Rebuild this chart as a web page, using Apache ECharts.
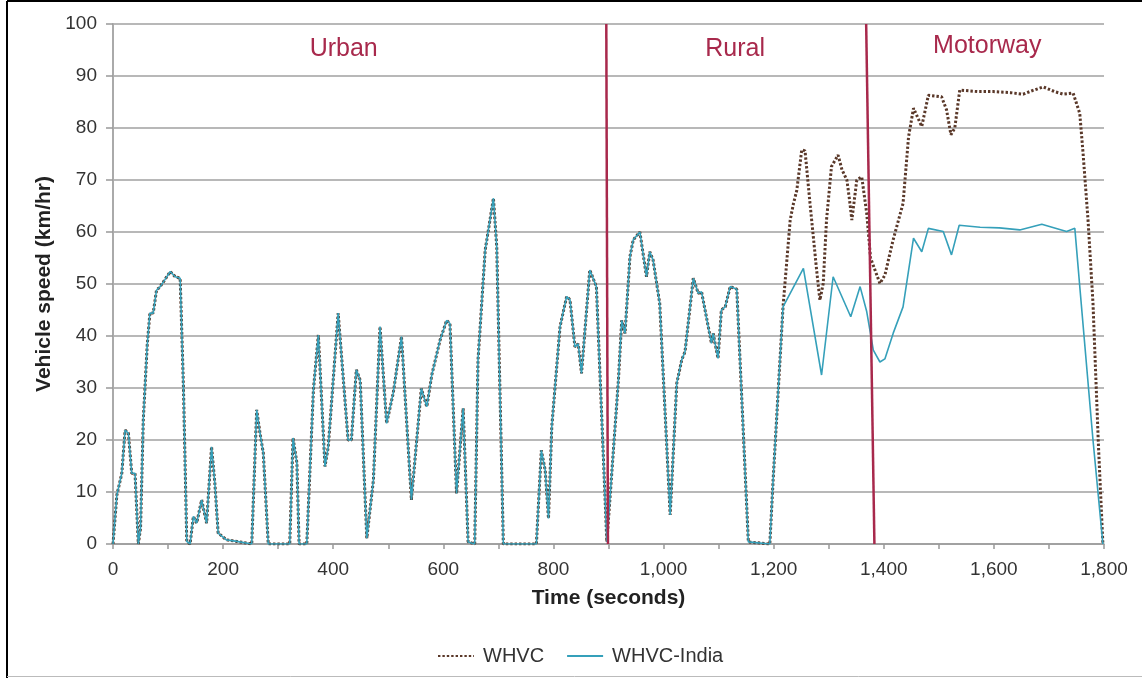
<!DOCTYPE html>
<html>
<head>
<meta charset="utf-8">
<script src="https://cdn.jsdelivr.net/npm/echarts@6/dist/echarts.min.js"></script>
<style>
html,body{margin:0;padding:0;background:#fff;}
#chart{width:1142px;height:678px;}
</style>
</head>
<body>
<div id="chart"></div>
<script>
// Shared part of both cycles (identical up to ~1217 s): [time s, speed km/h]
const sharedPart = [
  [0,0],[7,9.4],[16,13.6],[22,21.9],[28,21.3],[34,13.6],[40,13.6],[46,0],[50,3],[55,23.8],[62,38],[67,44.4],[73,44.4],
  [79,48.8],[85,49.4],[94,50.8],[104,52.4],[113,51.4],[122,51.1],[128,30],[134,0.5],[140,0],[146,5.3],[152,4],[161,8.5],
  [170,4],[179,18.7],[185,11.7],[191,2.1],[206,0.8],[225,0.5],[252,0],[261,25.8],[267,21.3],[273,17.5],[282,0],[321,0],
  [327,20.4],[334,15.6],[338,0],[352,0],[358,14.9],[364,29.6],[373,40.2],[385,14.9],[391,18.7],[409,44.4],[427,20],
  [433,20],[442,33.5],[449,31.5],[461,1.1],[464,0.8],[473,12.3],[485,41.8],[497,23.2],[509,29],[524,39.9],[542,8.5],
  [560,29.9],[570,26.4],[579,32.5],[594,39.2],[606,43],[612,42.4],[624,9.7],[636,26.1],[645,0.4],[657,0],[663,35.4],
  [676,56.5],[691,66.5],[697,57.2],[709,0],[769,0],[778,18],[785,14.2],[791,4.9],[797,22.6],[812,41.8],[824,47.6],
  [830,47],[839,37.9],[845,38.5],[851,32.8],[866,52.7],[878,49.5],[897,0.4],[918,31.5],[924,43],[930,40.5],[939,55.3],
  [945,58.5],[957,60],[969,51.4],[975,56.2],[981,54.6],[993,46.3],[1012,5.6],[1024,30.9],[1033,35.4],[1039,37],
  [1054,51.1],[1063,48.2],[1069,48.5],[1087,38.6],[1090,40.5],[1099,35.7],[1105,45],[1112,45.6],[1121,49.5],[1133,49],
  [1154,0.4],[1193,0],[1199,12.3],[1217,45.6]
];
// WHVC after the split
const whvcTail = [
  [1230,62.3],[1236,65.5],[1242,68],[1251,75.8],[1257,75.6],[1266,65.5],[1278,52.7],[1284,46.9],[1290,50.1],[1296,62.3],
  [1305,72.6],[1317,74.8],[1324,72],[1333,70],[1338,66],[1342,62.3],[1351,70],[1360,70.6],[1369,63.6],[1376,55],
  [1384,52.7],[1393,50.1],[1402,51.7],[1417,58.5],[1435,65.5],[1445,78.3],[1454,83.8],[1469,80.3],[1481,86.3],[1505,86],
  [1514,83.5],[1522,78.7],[1529,80],[1538,87.3],[1570,87],[1599,87],[1630,86.8],[1653,86.5],[1670,87.2],[1690,87.9],
  [1710,87],[1726,86.5],[1744,86.7],[1756,82.8],[1762,75.1],[1771,62.3],[1780,46.3],[1790,18.7],[1798,0]
];
// WHVC-India after the split
const indiaTail = [
  [1254,53],[1287,32.5],[1308,51.4],[1340,43.7],[1357,49.5],[1369,44.7],[1381,37.3],[1393,35],[1402,35.6],[1405,35.4],
  [1417,40.5],[1435,45.6],[1454,58.8],[1469,56.2],[1481,60.7],[1508,60.1],[1523,55.6],[1537,61.3],[1575,60.9],[1610,60.8],
  [1647,60.4],[1687,61.5],[1732,60.1],[1747,60.7],[1756,49.5],[1780,20],[1798,0]
];
const seriesNames = ['WHVC', 'WHVC-India'];
const phaseNames = ['Urban', 'Rural', 'Motorway'];
const phaseLabelPos = [[419, 95.2], [1130, 95.2], [1588, 95.8]];
// phase boundary lines: [time at 0 km/h, time at 100 km/h]
const phaseBounds = [[899, 896], [1383, 1368]];
const yTicks = {min: 0, max: 100, interval: 10};
const xTicks = {min: 0, max: 1800, interval: 100, labelEvery: 200};

const whvcData = sharedPart.concat(whvcTail);
const indiaData = sharedPart.concat(indiaTail);

const FONT = "'Liberation Sans', Arial, Helvetica, sans-serif";
const chart = echarts.init(document.getElementById('chart'));
chart.setOption({
  animation: false,
  backgroundColor: '#fff',
  textStyle: {fontFamily: FONT},
  grid: {left: 113, right: 38, top: 24, bottom: 134, containLabel: false},
  legend: {
    top: 641, left: 432,
    itemWidth: 36, itemHeight: 12, itemGap: 22,
    itemStyle: {opacity: 0},
    textStyle: {fontFamily: FONT, fontSize: 20, color: '#333', padding: [0, 0, 0, 4]},
    data: seriesNames
  },
  xAxis: {
    type: 'value', min: xTicks.min, max: xTicks.max, interval: xTicks.interval,
    name: 'Time (seconds)', nameLocation: 'middle', nameGap: 44,
    nameTextStyle: {fontFamily: FONT, fontSize: 21, fontWeight: 'bold', color: '#222'},
    axisLine: {show: true, lineStyle: {color: '#999', width: 1.5}},
    axisTick: {show: true, length: 5, lineStyle: {color: '#999', width: 1.5}},
    splitLine: {show: false},
    axisLabel: {
      margin: 16, fontSize: 19, color: '#333', fontFamily: FONT,
      formatter: v => (v % xTicks.labelEvery === 0 ? v.toLocaleString('en-US') : '')
    }
  },
  yAxis: {
    type: 'value', min: yTicks.min, max: yTicks.max, interval: yTicks.interval,
    name: 'Vehicle speed (km/hr)', nameLocation: 'middle', nameGap: 57, nameRotate: 90,
    nameTextStyle: {fontFamily: FONT, fontSize: 21, fontWeight: 'bold', color: '#222'},
    axisLine: {show: true, lineStyle: {color: '#aaa', width: 2}},
    axisTick: {show: true, length: 7, lineStyle: {color: '#999', width: 1.5}},
    splitLine: {show: true, lineStyle: {color: '#a0a0a0', width: 1.6}},
    axisLabel: {margin: 16, fontSize: 19, color: '#333', fontFamily: FONT}
  },
  series: [
    {
      name: seriesNames[0], type: 'line', data: whvcData, symbol: 'none', showSymbol: false,
      lineStyle: {color: '#5a3829', width: 3, type: [2.4, 2]},
      itemStyle: {color: '#5a3829'},
      z: 2
    },
    {
      name: seriesNames[1], type: 'line', data: indiaData, symbol: 'none', showSymbol: false,
      lineStyle: {color: '#35a0ba', width: 1.6, type: 'solid'},
      itemStyle: {color: '#35a0ba'},
      z: 3,
      markLine: {
        silent: true, symbol: 'none', animation: false,
        label: {show: false},
        lineStyle: {color: '#a8294c', width: 2.5, type: 'solid'},
        data: phaseBounds.map(b => [{coord: [b[0], yTicks.min]}, {coord: [b[1], yTicks.max]}])
      },
      markPoint: {
        silent: true, symbol: 'circle', symbolSize: 0, animation: false,
        label: {show: true, position: 'inside', formatter: '{b}', fontSize: 25, color: '#a8294c', fontFamily: FONT},
        data: phaseNames.map((n, i) => ({name: n, coord: phaseLabelPos[i]}))
      }
    }
  ],
  graphic: [
    {type: 'line', shape: {x1: 7, y1: 1, x2: 7, y2: 678}, style: {stroke: '#000', lineWidth: 2}},
    {type: 'line', shape: {x1: 7, y1: 1, x2: 1142, y2: 1}, style: {stroke: '#000', lineWidth: 2}},
    {type: 'line', shape: {x1: 7, y1: 676.5, x2: 1142, y2: 676.5}, style: {stroke: '#bbb', lineWidth: 1}}
  ]
});
</script>
</body>
</html>
